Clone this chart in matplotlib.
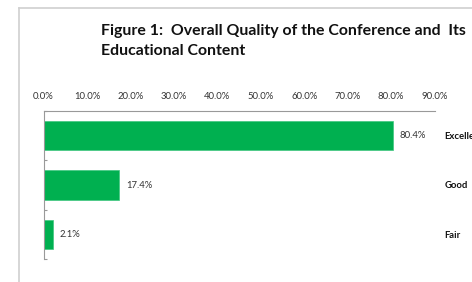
import matplotlib
matplotlib.use("Agg")
import matplotlib.pyplot as plt
from matplotlib.lines import Line2D
from matplotlib.ticker import FuncFormatter, MultipleLocator

plt.rcParams['font.family'] = ['Lato', 'DejaVu Sans']

categories = ['Excellent', 'Good', 'Fair']
values = [80.4, 17.4, 2.1]
value_labels = ['80.4%', '17.4%', '2.1%']
title_lines = ['Figure 1:  Overall Quality of the Conference and  Its',
               'Educational Content']

W, H = 472, 282
fig = plt.figure(figsize=(W / 100, H / 100), dpi=100)

# chart frame (partly cut off at right and bottom)
frame = '#d0d0d0'
fig.add_artist(Line2D([19 / W, 1], [1 - 8 / H, 1 - 8 / H], color=frame, lw=1.2))
fig.add_artist(Line2D([19 / W, 19 / W], [0, 1 - 8 / H], color=frame, lw=1.2))

fig.text(101 / W, 1 - 34.5 / H, title_lines[0], fontsize=11.4, fontweight='bold',
         va='baseline', ha='left', color='#111111')
fig.text(101 / W, 1 - 55 / H, title_lines[1], fontsize=11.4, fontweight='bold',
         va='baseline', ha='left', color='#111111')

left, right = 43.5 / W, 434.5 / W
top, bottom = 1 - 111 / H, 1 - 259 / H
ax = fig.add_axes([left, bottom, right - left, top - bottom])

y = range(len(categories))
ax.barh(y, values, height=0.59, color='#00B050', edgecolor='#3fc67f', linewidth=0.5)
ax.set_xlim(0, 90)
ax.set_ylim(2.5, -0.5)

for yi, v, lab in zip(y, values, value_labels):
    ax.annotate(lab, (v, yi), xytext=(5, 0), textcoords='offset points',
                va='center', ha='left', fontsize=6.8, color='#333333')

ax.xaxis.tick_top()
ax.xaxis.set_major_locator(MultipleLocator(10))
ax.xaxis.set_major_formatter(FuncFormatter(lambda v, p: f'{v:.1f}%'))
ax.tick_params(axis='x', length=0, pad=7, labelsize=6.8, labelcolor='#333333')

ax.yaxis.tick_right()
ax.set_yticks(list(y))
ax.set_yticklabels(categories, fontweight='bold', fontsize=6.8, color='#111111')
ax.tick_params(axis='y', which='major', length=0, pad=7)
ax.set_yticks([-0.5, 0.5, 1.5, 2.5], minor=True)
ax.tick_params(axis='y', which='minor', left=True, right=False, direction='in',
               length=2.5, color='#999999', width=0.8)

for s in ['right', 'bottom']:
    ax.spines[s].set_visible(False)
ax.spines['top'].set_color('#999999')
ax.spines['left'].set_color('#999999')
ax.spines['top'].set_linewidth(0.8)
ax.spines['left'].set_linewidth(0.8)

fig.savefig('out.png', dpi=100)
